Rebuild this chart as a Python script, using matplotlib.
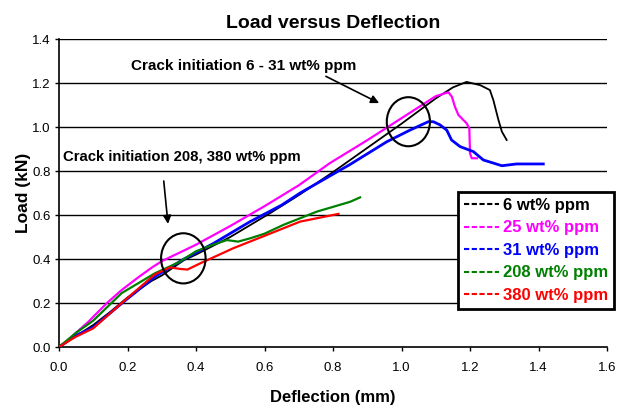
import matplotlib
matplotlib.use("Agg")
import matplotlib.pyplot as plt
from matplotlib.lines import Line2D
from matplotlib.patches import Ellipse

FONT = ["Liberation Sans Narrow", "Liberation Sans", "DejaVu Sans"]
plt.rcParams["font.family"] = FONT

# Load (kN) vs deflection (mm)
x_6 = [0, 0.03, 0.06, 0.1, 0.15, 0.2, 0.27, 0.3, 0.365, 0.4, 0.5, 0.616, 0.7, 0.8,
       0.9, 1.0, 1.1, 1.15, 1.19, 1.23, 1.258, 1.268, 1.283, 1.293, 1.307]
y_6 = [0, 0.03, 0.06, 0.1, 0.16, 0.225, 0.3, 0.325, 0.395, 0.42, 0.5, 0.608, 0.69, 0.795,
       0.905, 1.015, 1.13, 1.18, 1.205, 1.19, 1.168, 1.123, 1.032, 0.979, 0.941]

x_25 = [0, 0.03, 0.05, 0.086, 0.14, 0.183, 0.23, 0.27, 0.3, 0.4, 0.5, 0.6, 0.7, 0.79,
        0.9, 1.0, 1.1, 1.137, 1.147, 1.156, 1.166, 1.19, 1.198, 1.2, 1.205, 1.22]
y_25 = [0, 0.035, 0.065, 0.115, 0.2, 0.259, 0.315, 0.36, 0.39, 0.465, 0.55, 0.64, 0.735, 0.835,
        0.94, 1.04, 1.14, 1.158, 1.138, 1.092, 1.055, 1.017, 0.994, 0.88, 0.858, 0.858]

x_31 = [0, 0.047, 0.1, 0.183, 0.28, 0.365, 0.45, 0.558, 0.65, 0.704, 0.85, 0.957, 1.025,
        1.078, 1.093, 1.112, 1.132, 1.146, 1.171, 1.21, 1.239, 1.293, 1.336, 1.414]
y_31 = [0, 0.05, 0.09, 0.198, 0.32, 0.4, 0.47, 0.57, 0.645, 0.7, 0.83, 0.933, 0.986,
        1.024, 1.024, 1.01, 0.986, 0.941, 0.911, 0.888, 0.85, 0.824, 0.832, 0.832]

x_208 = [0, 0.05, 0.1, 0.183, 0.28, 0.35, 0.4, 0.45, 0.49, 0.523, 0.558, 0.6, 0.655,
         0.752, 0.85, 0.879]
y_208 = [0, 0.065, 0.12, 0.245, 0.335, 0.385, 0.435, 0.465, 0.486, 0.479, 0.494, 0.515,
         0.555, 0.615, 0.66, 0.68]

x_380 = [0, 0.047, 0.1, 0.183, 0.28, 0.324, 0.353, 0.375, 0.412, 0.509, 0.606, 0.704, 0.816]
y_380 = [0, 0.045, 0.085, 0.2, 0.33, 0.362, 0.355, 0.352, 0.38, 0.449, 0.509, 0.57, 0.605]

series = [
    ("6 wt% ppm", x_6, y_6, "black", 1.3),
    ("25 wt% ppm", x_25, y_25, "#ff00ff", 1.6),
    ("31 wt% ppm", x_31, y_31, "#0000ff", 2.0),
    ("208 wt% ppm", x_208, y_208, "#008000", 1.6),
    ("380 wt% ppm", x_380, y_380, "#ff0000", 1.6),
]

fig = plt.figure(figsize=(6.31, 4.05), dpi=100)
ax = fig.add_axes([0.0935, 0.1432, 0.8685, 0.7605])

for y in [0.2, 0.4, 0.6, 0.8, 1.0, 1.2, 1.4]:
    ax.axhline(y, color="black", linewidth=1.0, zorder=1)

for label, xs, ys, color, lw in series:
    ax.plot(xs, ys, color=color, linewidth=lw, zorder=3)

ax.set_xlim(0, 1.6)
ax.set_ylim(0, 1.4)
ax.set_xticks([0.0, 0.2, 0.4, 0.6, 0.8, 1.0, 1.2, 1.4, 1.6])
ax.set_yticks([0.0, 0.2, 0.4, 0.6, 0.8, 1.0, 1.2, 1.4])
ax.xaxis.set_major_formatter(matplotlib.ticker.FormatStrFormatter("%.1f"))
ax.yaxis.set_major_formatter(matplotlib.ticker.FormatStrFormatter("%.1f"))
ax.tick_params(direction="out", length=3, width=1, labelsize=9.5, colors="black")
ax.tick_params(axis="x", pad=8)
ax.tick_params(axis="y", pad=3)
ax.spines["top"].set_visible(False)
ax.spines["right"].set_visible(False)
ax.spines["left"].set_linewidth(1.2)
ax.spines["bottom"].set_linewidth(1.2)

ax.set_title("Load versus Deflection", fontsize=14, fontweight="bold", pad=8)
ax.set_xlabel("Deflection (mm)", fontsize=12, fontweight="bold", labelpad=11)
ax.set_ylabel("Load (kN)", fontsize=12.5, fontweight="bold", labelpad=1)

# crack initiation circles and arrows
ax.add_patch(Ellipse((1.02, 1.024), 0.126, 0.223, fill=False, edgecolor="black",
                     linewidth=1.5, zorder=4))
ax.add_patch(Ellipse((0.363, 0.403), 0.13, 0.228, fill=False, edgecolor="black",
                     linewidth=1.5, zorder=4))
ax.annotate("", xy=(0.942, 1.103), xytext=(0.772, 1.236),
            arrowprops=dict(arrowstyle="-|>", color="black", lw=1.2, mutation_scale=12))
ax.annotate("", xy=(0.319, 0.547), xytext=(0.305, 0.767),
            arrowprops=dict(arrowstyle="-|>", color="black", lw=1.2, mutation_scale=12))
ax.text(0.21, 1.277, "Crack initiation 6 - 31 wt% ppm", fontsize=11, fontweight="bold",
        va="center", ha="left")
ax.text(0.012, 0.864, "Crack initiation 208, 380 wt% ppm", fontsize=10.7, fontweight="bold",
        va="center", ha="left")

handles = [Line2D([0], [0], color=c, linewidth=1.5, linestyle=(0, (2.5, 1.2)))
           for _, _, _, c, _ in series]
leg = ax.legend(handles, [s[0] for s in series], loc="upper left",
                bbox_to_anchor=(0.728, 0.503), frameon=True, fancybox=False,
                edgecolor="black", facecolor="white", framealpha=1,
                prop={"family": FONT, "weight": "bold", "size": 12},
                handlelength=2.1, handletextpad=0.25, labelspacing=0.45,
                borderpad=0.35, borderaxespad=0)
leg.get_frame().set_linewidth(2)
leg.set_zorder(5)
for text, (_, _, _, c, _) in zip(leg.get_texts(), series):
    text.set_color(c)

fig.savefig("out.png", dpi=100, facecolor="white")
